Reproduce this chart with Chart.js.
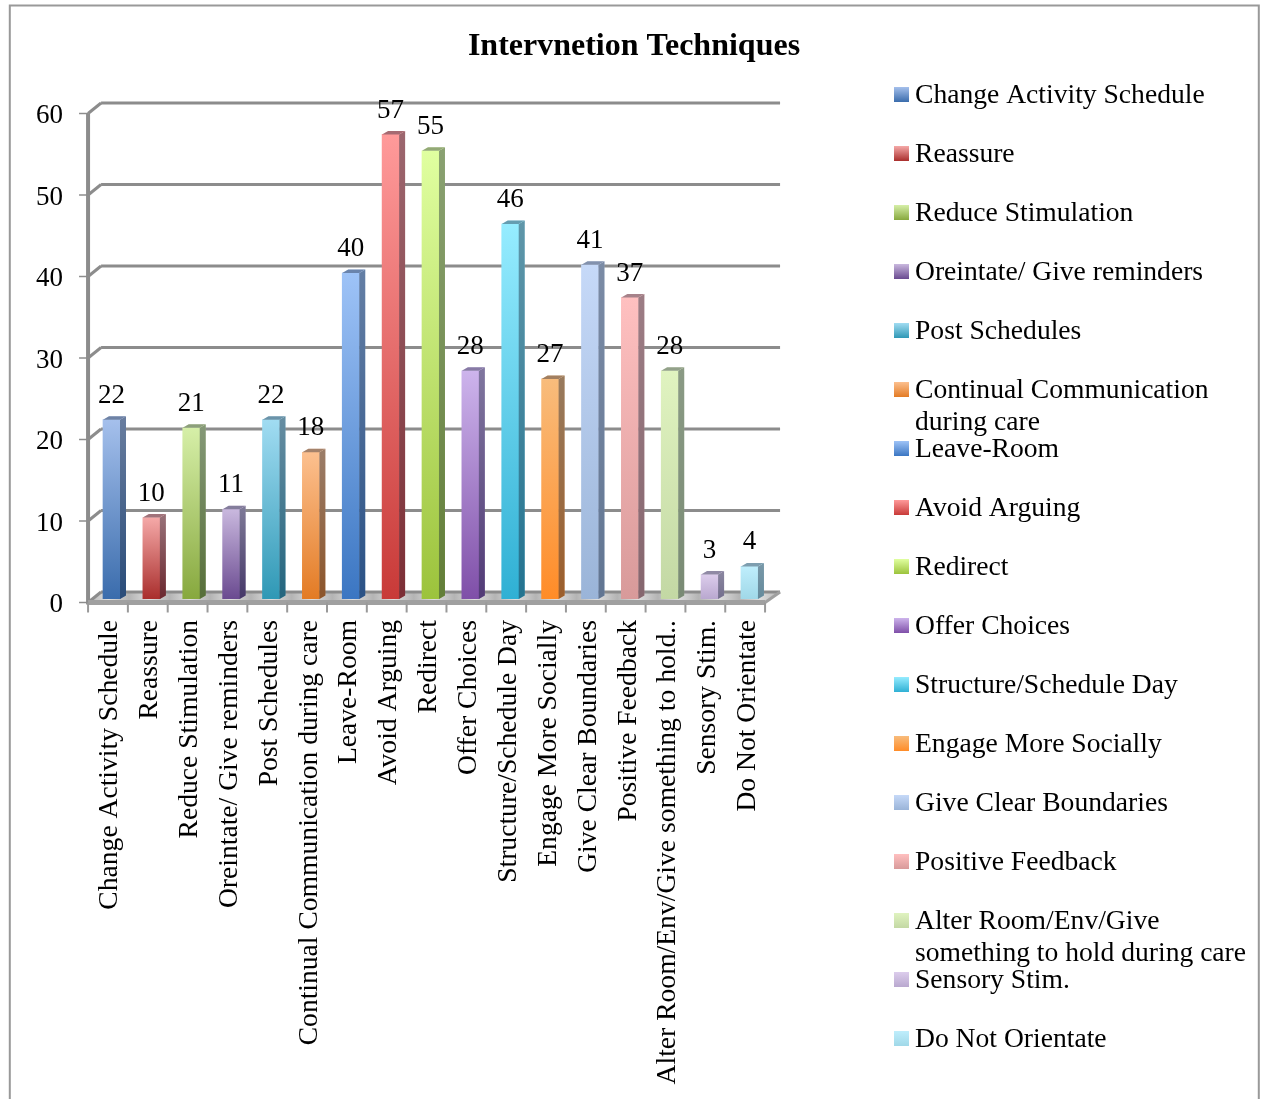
<!DOCTYPE html>
<html>
<head>
<meta charset="utf-8">
<title>Intervnetion Techniques</title>
<script src="https://cdn.jsdelivr.net/npm/chart.js@4"></script>
<style>
    html, body { margin: 0; padding: 0; background: #fff; overflow: hidden; }
    canvas { display: block; }
</style>
</head>
<body>
<canvas id="techniquesChart" width="1265" height="1099"></canvas>
<script>
const categories = [
    'Change Activity Schedule', 'Reassure', 'Reduce Stimulation', 'Oreintate/ Give reminders',
    'Post Schedules', 'Continual Communication during care', 'Leave-Room', 'Avoid Arguing',
    'Redirect', 'Offer Choices', 'Structure/Schedule Day', 'Engage More Socially',
    'Give Clear Boundaries', 'Positive Feedback', 'Alter Room/Env/Give something to hold..',
    'Sensory Stim.', 'Do Not Orientate'
];
const counts = [22, 10, 21, 11, 22, 18, 40, 57, 55, 28, 46, 27, 41, 37, 28, 3, 4];
const yTicks = [0, 10, 20, 30, 40, 50, 60];
const legendLabels = [
    ['Change Activity Schedule'], ['Reassure'], ['Reduce Stimulation'], ['Oreintate/ Give reminders'],
    ['Post Schedules'], ['Continual Communication', 'during care'], ['Leave-Room'], ['Avoid Arguing'],
    ['Redirect'], ['Offer Choices'], ['Structure/Schedule Day'], ['Engage More Socially'],
    ['Give Clear Boundaries'], ['Positive Feedback'], ['Alter Room/Env/Give', 'something to hold during care'],
    ['Sensory Stim.'], ['Do Not Orientate']
];
const topColors = [
    '#a5c0ec', '#f5a9a8', '#d6efa8', '#c9b8de', '#a1dcf2', '#fcc08f', '#9ec3f7', '#ff9a9a', '#e0ffa0',
    '#cdb4ec', '#96ecff', '#f8bc7c', '#c6d9f8', '#ffc0c0', '#e0f3c0', '#dccdec', '#bfeefc'
];
const bottomColors = [
    '#3a6cac', '#a92e2c', '#87a83e', '#6a4a90', '#2f98b5', '#e37b24', '#3b76c2', '#c83a38', '#9cc33c',
    '#7f4fa8', '#2fb0d4', '#ff8c28', '#9ab4d8', '#d89a9a', '#c3d8a4', '#b9a8cf', '#a0d8e8'
];

const SERIF = '"Liberation Serif", serif';
const AXIS_GREY = '#8c8c8c';
const LABEL_SIZE = 27.6;
// offsets of the front edge and back wall from the plane the bars stand on
const FRONT = { x: -3.5, y: 3.5 };
const BACK = { x: 9.5, y: -7 };
const BAR_DEPTH = { x: 6, y: -3.5 };

function barGradient(ctx, top, bottom, i) {
    const g = ctx.createLinearGradient(0, top, 0, bottom);
    g.addColorStop(0, topColors[i]);
    g.addColorStop(1, bottomColors[i]);
    return g;
}

function line(ctx, x1, y1, x2, y2) {
    ctx.beginPath();
    ctx.moveTo(x1, y1);
    ctx.lineTo(x2, y2);
    ctx.stroke();
}

function poly(ctx, pts, fill) {
    ctx.beginPath();
    pts.forEach((p, i) => (i ? ctx.lineTo(p[0], p[1]) : ctx.moveTo(p[0], p[1])));
    ctx.closePath();
    ctx.fillStyle = fill;
    ctx.fill();
}

// floor shading: light and dark bands, one pair per category
function floorFill(ctx, left, right) {
    const g = ctx.createLinearGradient(left, 0, right, 0);
    const bands = categories.length * 2;
    for (let i = 0; i <= bands; i++) {
        g.addColorStop(i / bands, i % 2 ? '#dedede' : '#b4b4b4');
    }
    return g;
}

// outer frame, floor, back wall grid and the front axis with its tick stubs
const wallsPlugin = {
    id: 'walls',
    afterLayout(chart) {
        // the title spans the whole page, not just the plot
        chart.titleBlock.left = 0;
        chart.titleBlock.right = 1268;
    },
    beforeDatasetsDraw(chart) {
        const { ctx, chartArea: a, scales: { y } } = chart;
        const base = y.getPixelForValue(0);
        const frontL = a.left + FRONT.x, frontR = frontL + 677;
        const backL = a.left + BACK.x, backR = backL + 679;
        ctx.save();

        ctx.strokeStyle = '#999';
        ctx.lineWidth = 2;
        ctx.beginPath();
        ctx.moveTo(9.8, 1099);
        ctx.lineTo(9.8, 5.5);
        ctx.lineTo(1258.8, 5.5);
        ctx.lineTo(1258.8, 1099);
        ctx.stroke();

        poly(ctx, [
            [frontL, base + FRONT.y], [backL, base + BACK.y],
            [backR, base + BACK.y], [frontR, base + FRONT.y]
        ], floorFill(ctx, frontL, backR));

        ctx.strokeStyle = AXIS_GREY;
        yTicks.forEach(v => {
            const p = y.getPixelForValue(v);
            ctx.lineWidth = 3;
            line(ctx, backL, p + BACK.y, backR, p + BACK.y);
            line(ctx, frontL, p + FRONT.y, backL, p + BACK.y);
            ctx.lineWidth = 1.5;
            line(ctx, frontL - 9, p + FRONT.y, frontL, p + FRONT.y);
        });
        ctx.lineWidth = 4;
        line(ctx, frontL, y.getPixelForValue(60) + FRONT.y, frontL, base + FRONT.y + 2);
        ctx.strokeStyle = '#a0a0a0';
        ctx.lineWidth = 5;
        line(ctx, frontL, base + FRONT.y, frontR, base + FRONT.y);
        ctx.lineWidth = 3;
        line(ctx, frontR, base + FRONT.y, backR, base + BACK.y);
        ctx.lineWidth = 2;
        ctx.strokeStyle = '#999';
        for (let i = 0; i <= categories.length; i++) {
            const tx = frontL + i * (frontR - frontL) / categories.length;
            line(ctx, tx, base + FRONT.y, tx, base + FRONT.y + 10);
        }
        ctx.restore();
    }
};

// side and top faces of each column, plus the value printed above it
const depthPlugin = {
    id: 'depth',
    afterDatasetsDraw(chart) {
        const { ctx } = chart;
        const bars = chart.getDatasetMeta(0).data;
        ctx.save();
        bars.forEach((bar, i) => {
            const right = bar.x + bar.width / 2, left = bar.x - bar.width / 2;
            const dx = BAR_DEPTH.x, dy = BAR_DEPTH.y;
            const side = [[right, bar.y], [right + dx, bar.y + dy], [right + dx, bar.base + dy], [right, bar.base]];
            const top = [[left, bar.y], [left + dx, bar.y + dy], [right + dx, bar.y + dy], [right, bar.y]];
            poly(ctx, side, barGradient(ctx, bar.y, bar.base, i));
            poly(ctx, side, 'rgba(20,30,50,0.42)');
            poly(ctx, top, topColors[i]);
            poly(ctx, top, 'rgba(20,30,50,0.38)');

            ctx.fillStyle = '#000';
            ctx.font = '27px ' + SERIF;
            ctx.textAlign = 'center';
            ctx.textBaseline = 'middle';
            ctx.fillText(String(counts[i]), bar.x, bar.y - 24);
        });
        ctx.restore();
    }
};

// legend rows sit on a fixed pitch, wrapped entries run into the gap below
const sideLegendPlugin = {
    id: 'sideLegend',
    afterDraw(chart) {
        const { ctx } = chart;
        ctx.save();
        ctx.font = LABEL_SIZE + 'px ' + SERIF;
        ctx.textBaseline = 'middle';
        ctx.textAlign = 'left';
        legendLabels.forEach((lines, i) => {
            const cy = 94 + i * 59;
            ctx.fillStyle = barGradient(ctx, cy - 7, cy + 8, i);
            ctx.fillRect(894, cy - 7, 15, 15);
            ctx.fillStyle = '#000';
            lines.forEach((text, n) => ctx.fillText(text, 915, cy + 2 + n * 32));
        });
        ctx.restore();
    }
};

new Chart(document.getElementById('techniquesChart'), {
    type: 'bar',
    data: {
        labels: categories,
        datasets: [{
            data: counts,
            barThickness: 17,
            backgroundColor(c) {
                const { chart, dataIndex } = c;
                if (!chart.chartArea) return topColors[dataIndex];
                const y = chart.scales.y;
                return barGradient(chart.ctx, y.getPixelForValue(counts[dataIndex]), y.getPixelForValue(0), dataIndex);
            }
        }]
    },
    plugins: [wallsPlugin, depthPlugin, sideLegendPlugin],
    options: {
        responsive: false,
        animation: false,
        layout: { padding: { left: 0, right: 495.6, top: 0, bottom: 0 } },
        plugins: {
            legend: { display: false },
            tooltip: { enabled: false },
            title: {
                display: true,
                text: 'Intervnetion Techniques',
                color: '#000',
                font: { family: SERIF, size: 32, weight: 'bold', lineHeight: 1.2 },
                padding: { top: 27.8, bottom: 43.8 }
            }
        },
        scales: {
            x: {
                afterFit(s) { s.height = 500; },
                grid: { display: false },
                border: { display: false },
                ticks: {
                    autoSkip: false,
                    minRotation: 90,
                    maxRotation: 90,
                    padding: 13,
                    labelOffset: -1.5,
                    color: '#000',
                    font: { family: SERIF, size: LABEL_SIZE }
                }
            },
            y: {
                min: 0,
                max: 60,
                afterFit(s) { s.width = 91.56; },
                grid: { display: false },
                border: { display: false },
                ticks: {
                    stepSize: 10,
                    padding: 20.5,
                    labelOffset: 6,
                    color: '#000',
                    font: { family: SERIF, size: 27 }
                }
            }
        }
    }
});
</script>
</body>
</html>
